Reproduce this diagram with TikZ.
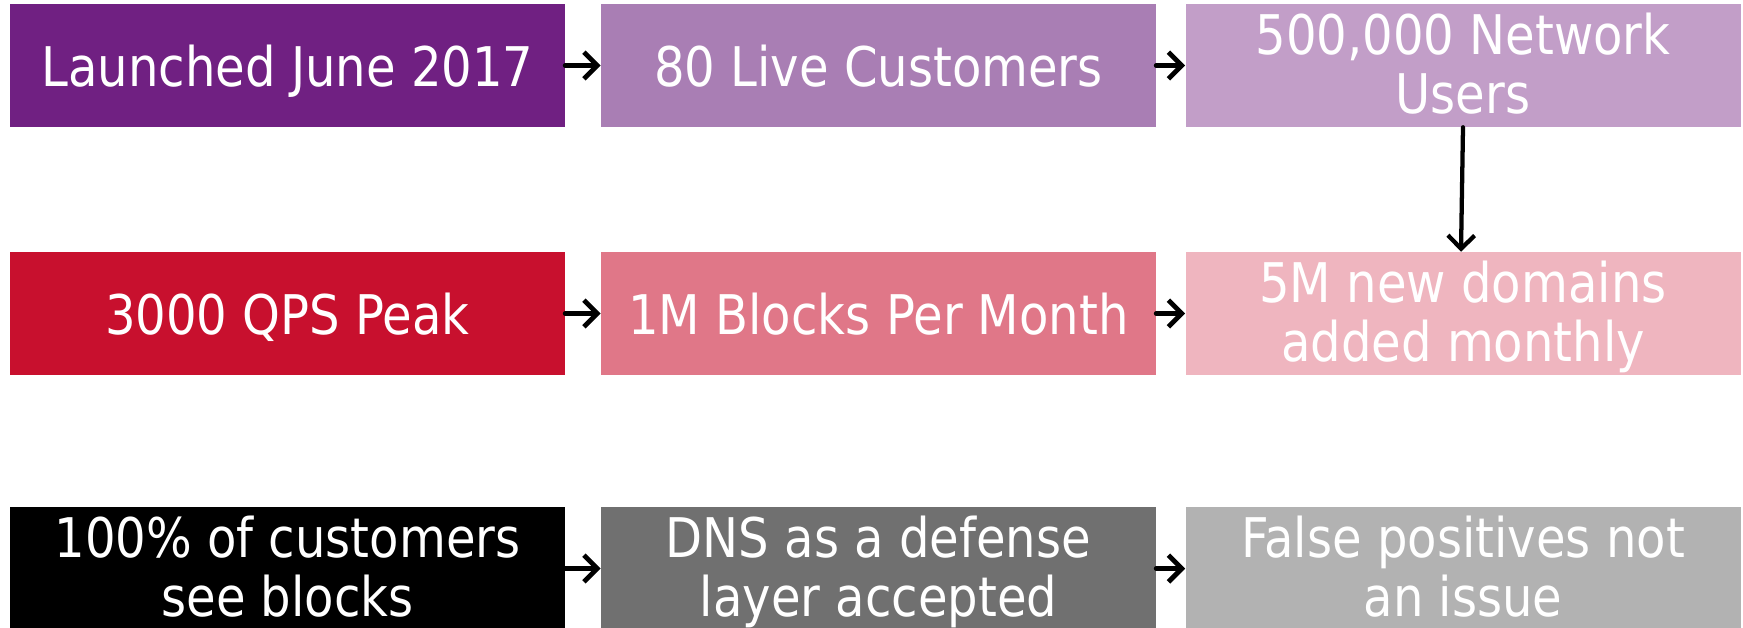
\documentclass[tikz,border=0pt]{standalone}
\usepackage{fontspec}
\setmainfont{DejaVu Sans}[FakeStretch=0.88]
\usetikzlibrary{arrows.meta}

\definecolor{plumA}{HTML}{702082}
\definecolor{plumB}{HTML}{A97EB4}
\definecolor{plumC}{HTML}{C29EC8}
\definecolor{redA}{HTML}{C8102E}
\definecolor{redB}{HTML}{E07788}
\definecolor{redC}{HTML}{EFB5BF}
\definecolor{greyA}{HTML}{000000}
\definecolor{greyB}{HTML}{707070}
\definecolor{greyC}{HTML}{B2B2B2}

\begin{document}
\begin{tikzpicture}[x=0.75pt,y=-0.75pt,
  card/.style={minimum width=416.25pt, minimum height=92.25pt, inner sep=0pt,
    text=white, align=center, font=\fontsize{41}{44}\selectfont},
  oneline/.style={text height=31.8pt, text depth=0pt},
  twoline/.style={text height=71.5pt, text depth=0pt},
  flow/.style={-{Straight Barb[length=10pt,width=20pt]}, line width=3.7pt, line cap=round}]

\useasboundingbox (0,0) rectangle (1743,628);
\clip (0,0) rectangle (1743,628);

% row 1
\node[card, oneline, fill=plumA] (r1a) at (287.5,65.5) {Launched June 2017};
\node[card, oneline, fill=plumB] (r1b) at (878.5,65.5) {80 Live Customers};
\node[card, twoline, fill=plumC] (r1c) at (1463,65.5) {500,000 Network\\Users};

% row 2
\node[card, oneline, fill=redA] (r2a) at (287.5,313.5) {3000 QPS Peak};
\node[card, oneline, fill=redB] (r2b) at (878.5,313.5) {1M Blocks Per Month};
\node[card, twoline, fill=redC] (r2c) at (1463,313.5) {5M new domains\\added monthly};

% row 3
\node[card, twoline, fill=greyA] (r3a) at (287.5,568.5) {100\% of customers\\see blocks};
\node[card, twoline, fill=greyB] (r3b) at (878.5,568.5) {DNS as a defense\\layer accepted};
\node[card, twoline, fill=greyC] (r3c) at (1463,568.5) {False positives not\\an issue};

% connectors
\draw[flow] (r1a) -- (r1b);
\draw[flow] (r1b) -- (r1c);
\draw[flow, line width=3.2pt] (r1c.south) -- ([xshift=-1.5pt]r2c.north);
\draw[flow] (r2a) -- (r2b);
\draw[flow] (r2b) -- (r2c);
\draw[flow] (r3a) -- (r3b);
\draw[flow] (r3b) -- (r3c);
\end{tikzpicture}
\end{document}
